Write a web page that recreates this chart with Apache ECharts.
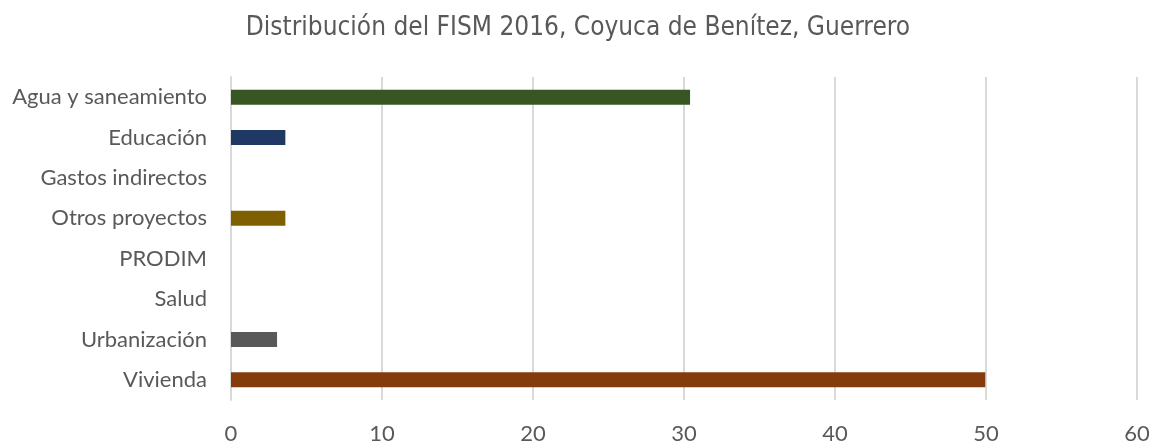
<!DOCTYPE html>
<html>
<head>
<meta charset="utf-8">
<script src="https://cdn.jsdelivr.net/npm/echarts@6/dist/echarts.min.js"></script>
<style>
html,body{margin:0;padding:0;background:#fff;}
#chart{width:1156px;height:445px;}
</style>
</head>
<body>
<div id="chart"></div>
<script>
const categories = ["Agua y saneamiento","Educación","Gastos indirectos","Otros proyectos","PRODIM","Salud","Urbanización","Vivienda"];
const values = [30.4, 3.6, 0, 3.6, 0, 0, 3.05, 49.95];
const barColors = ["#375623","#1F3864","#7F7F7F","#7F6000","#7F7F7F","#7F7F7F","#595959","#843C0C"];
const xTicks = [0, 10, 20, 30, 40, 50, 60];

const chart = echarts.init(document.getElementById('chart'), null, {renderer:'canvas'});
chart.setOption({
  animation: false,
  title: {
    text: "Distribución del FISM 2016, Coyuca de Benítez, Guerrero",
    left: 'center',
    top: 10,
    textStyle: {fontFamily: "DejaVu Sans Condensed", fontSize: 26, fontWeight: 'normal', color: '#595959'}
  },
  grid: {left: 231, right: 19, top: 77, bottom: 40, containLabel: false},
  xAxis: {
    type: 'value',
    min: xTicks[0], max: xTicks[xTicks.length-1], interval: 10,
    axisLine: {show: false},
    axisTick: {show: false},
    splitLine: {show: true, lineStyle: {color: '#d9d9d9', width: 2}},
    axisLabel: {fontFamily: 'Lato', fontSize: 22, color: '#595959', margin: 23}
  },
  yAxis: {
    type: 'category',
    data: categories,
    inverse: true,
    axisLine: {show: true, lineStyle: {color: '#d9d9d9', width: 2}},
    axisTick: {show: false},
    axisLabel: {fontFamily: 'Lato', fontSize: 22, color: '#595959', margin: 24}
  },
  series: [{
    type: 'bar',
    barWidth: 15,
    data: values.map((v, i) => ({value: v, itemStyle: {color: barColors[i]}}))
  }]
});
</script>
</body>
</html>
